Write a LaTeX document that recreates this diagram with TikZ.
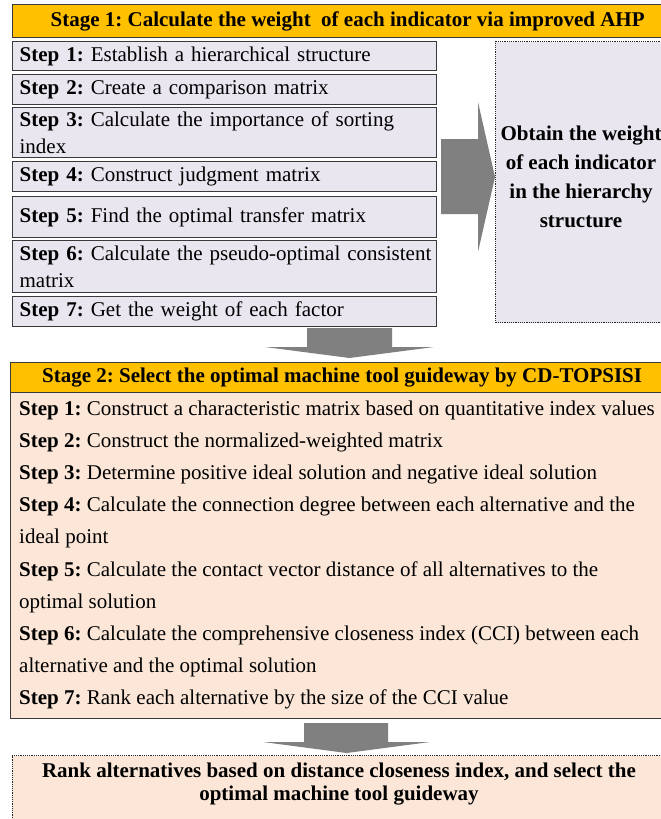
\documentclass[tikz,border=0pt]{standalone}
\usepackage{fontspec}
\setmainfont{Liberation Serif}
\definecolor{gold}{HTML}{FFC000}
\definecolor{lav}{HTML}{E9E6EF}
\definecolor{peach}{HTML}{FBE6D8}
\definecolor{agray}{HTML}{808080}
\definecolor{bord}{HTML}{3A3A3A}
\begin{document}
\frenchspacing
\hyphenpenalty=10000
\exhyphenpenalty=10000
\begin{tikzpicture}[x=1pt,y=-1pt,
  font=\fontsize{21}{27}\selectfont,
  stepbox/.style={draw=bord, line width=1.2pt, fill=lav, anchor=north west,
    minimum width=424pt, text width=410pt, inner xsep=7pt, inner ysep=0pt, align=left},
  headbox/.style={draw=bord, line width=1.2pt, fill=gold, anchor=north west,
    inner sep=0pt, font=\fontsize{21}{27}\selectfont\bfseries},
  bodybox/.style={draw=bord, line width=1.2pt, fill=peach, anchor=north west, inner sep=0pt},
  dotbox/.style={draw=black!85, line width=1.2pt, densely dotted, anchor=north west, inner sep=0pt},
  bodyline/.style={anchor=base west, inner sep=0pt},
  blockarrow/.style={fill=agray, draw=none},
  boldtxt/.style={align=center, inner sep=0pt, font=\fontsize{21}{29}\selectfont\bfseries}
]
\useasboundingbox (0,0) rectangle (661,819);

% Stage 1
\node[headbox, minimum width=670pt, minimum height=33pt] (h1) at (12,4)
  {Stage 1: Calculate the weight\ \ of each indicator via improved AHP};

\node[stepbox, minimum height=29pt] (s1) at (12,41) {\textbf{Step 1:} Establish a hierarchical structure};
\node[stepbox, minimum height=30pt] (s2) at (12,74) {\textbf{Step 2:} Create a comparison matrix};
\node[stepbox, minimum height=50pt] (s3) at (12,107) {\mbox{\textbf{Step 3:} Calculate the importance of sorting}\\index};
\node[stepbox, minimum height=30pt] (s4) at (12,161) {\textbf{Step 4:} Construct judgment matrix};
\node[stepbox, minimum height=41pt] (s5) at (12,196) {\textbf{Step 5:} Find the optimal transfer matrix};
\node[stepbox, minimum height=52pt] (s6) at (12,240) {\mbox{\textbf{Step 6:} Calculate the pseudo-optimal consistent}\\matrix};
\node[stepbox, minimum height=30pt] (s7) at (12,296) {\textbf{Step 7:} Get the weight of each factor};

% right block arrow
\draw[blockarrow] (441,139) -- (478,139) -- (478,102) -- (495,177) -- (478,252) -- (478,214) -- (441,214) -- cycle;

\node[dotbox, fill=lav, minimum width=200pt, minimum height=281pt] (obtain) at (495,41) {};
\node[boldtxt] (obtaintxt) at (581,177) {Obtain the weight\\of each indicator\\in the hierarchy\\structure};

% down arrow 1
\draw[blockarrow] (307,328) -- (392,328) -- (392,347) -- (434,347) -- (349.5,358) -- (265,347) -- (307,347) -- cycle;

% Stage 2
\node[headbox, minimum width=663pt, minimum height=30pt] (h2) at (10,362)
  {Stage 2: Select the optimal machine tool guideway by CD-TOPSISI};
\node[bodybox, minimum width=663pt, minimum height=326pt] (b2) at (10,392) {};

\node[bodyline] (l1) at (19,415.5) {\textbf{Step 1:} Construct a characteristic matrix based on quantitative index values};
\node[bodyline] (l2) at (19,447.6) {\textbf{Step 2:} Construct the normalized-weighted matrix};
\node[bodyline] (l3) at (19,479.7) {\textbf{Step 3:} Determine positive ideal solution and negative ideal solution};
\node[bodyline] (l4) at (19,511.8) {\textbf{Step 4:} Calculate the connection degree between each alternative and the};
\node[bodyline] (l5) at (19,543.9) {ideal point};
\node[bodyline] (l6) at (19,576.0) {\textbf{Step 5:} Calculate the contact vector distance of all alternatives to the};
\node[bodyline] (l7) at (19,608.1) {optimal solution};
\node[bodyline] (l8) at (19,640.2) {\textbf{Step 6:} Calculate the comprehensive closeness index (CCI) between each};
\node[bodyline] (l9) at (19,672.3) {alternative and the optimal solution};
\node[bodyline] (l10) at (19,704.4) {\textbf{Step 7:} Rank each alternative by the size of the CCI value};

% down arrow 2
\draw[blockarrow] (304,723) -- (388,723) -- (388,742) -- (430,742) -- (346.5,753) -- (263,742) -- (304,742) -- cycle;

% final box
\node[dotbox, fill=peach, minimum width=656pt, minimum height=90pt] (final) at (11.7,755) {};
\node[boldtxt, font=\fontsize{21}{23.5}\selectfont\bfseries] (finaltxt) at (339,784)
  {Rank alternatives based on distance closeness index, and select the\\optimal machine tool guideway};
\end{tikzpicture}
\end{document}
